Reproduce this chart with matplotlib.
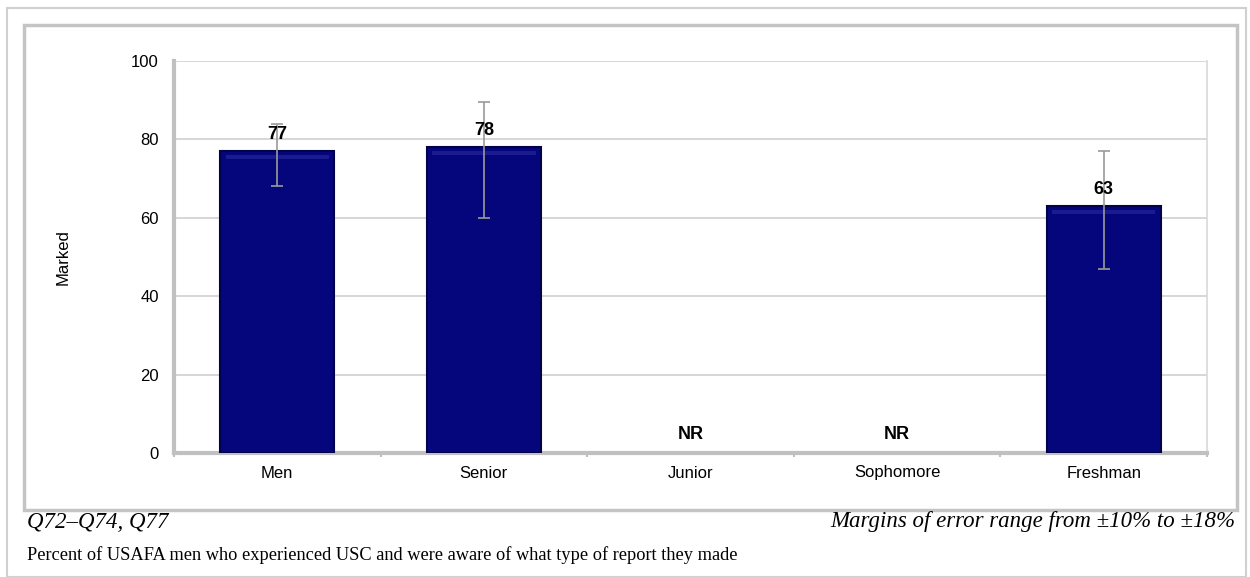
import matplotlib
matplotlib.use("Agg")
import matplotlib.pyplot as plt
from matplotlib.patches import Rectangle
import numpy as np

categories = ["Men", "Senior", "Junior", "Sophomore", "Freshman"]
values = [77, 78, None, None, 63]
err_low = [68, 60, None, None, 47]
err_high = [84, 89.5, None, None, 77]
yticks = [0, 20, 40, 60, 80, 100]

W, H = 1250, 577
fig = plt.figure(figsize=(W / 100, H / 100), dpi=100)

def fx(px):
    return px / W

def fy(py):
    return 1 - py / H

# outer and inner frames
fig.patches.append(Rectangle((fx(7), fy(577)), fx(1246) - fx(7), fy(8) - fy(577),
                             transform=fig.transFigure, fill=False, ec="#d0d0d0", lw=1.5))
fig.patches.append(Rectangle((fx(24), fy(510)), fx(1237) - fx(24), fy(25) - fy(510),
                             transform=fig.transFigure, fill=False, ec="#c4c4c4", lw=2.5))

ax = fig.add_axes([fx(174), fy(453), fx(1207) - fx(174), fy(61) - fy(453)])
x = np.arange(len(categories))
for i, v in enumerate(values):
    if v is None:
        ax.text(i, 2.5, "NR", ha="center", va="bottom", fontsize=13, fontweight="bold",
                family="Liberation Sans")
        continue
    ax.bar(i, v, width=0.55, color="#06067c", edgecolor="#02024a", lw=1.5, zorder=3)
    # subtle highlight strip at top
    ax.bar(i, 1.0, width=0.50, bottom=v - 2.0, color="#2828a0", lw=0, zorder=4, alpha=0.6)
    ax.errorbar(i, v, yerr=[[v - err_low[i]], [err_high[i] - v]], fmt="none",
                ecolor="#9a9a9a", elinewidth=1.2, capsize=4, capthick=1.2, zorder=5)
    ax.text(i, v + 2.0, str(v), ha="center", va="bottom", fontsize=13, fontweight="bold",
            family="Liberation Sans", zorder=6)

ax.set_xlim(-0.5, len(categories) - 0.5)
ax.set_ylim(0, 100)
ax.set_yticks(yticks)
ax.set_yticklabels([str(t) for t in yticks], family="Liberation Sans", fontsize=12)
ax.set_xticks(x)
ax.set_xticklabels(categories, family="Liberation Sans", fontsize=12)
ax.set_xticks(np.arange(-0.5, len(categories), 1), minor=True)
ax.tick_params(axis="x", which="major", length=0, pad=9)
ax.tick_params(axis="x", which="minor", length=3, color="#c0c0c0", width=1.5)
ax.tick_params(axis="y", length=0, pad=11)
ax.yaxis.grid(True, color="#d0d0d0", lw=1.2, zorder=0)
ax.set_axisbelow(True)
for s in ["left", "bottom"]:
    ax.spines[s].set_color("#c0c0c0")
    ax.spines[s].set_linewidth(3)
ax.spines["right"].set_color("#d8d8d8")
ax.spines["right"].set_linewidth(1.2)
ax.spines["top"].set_visible(False)
ax.set_ylabel("Marked", family="Liberation Sans", fontsize=12, labelpad=0)
ax.yaxis.set_label_coords((71 - 174) / (1207 - 174), 0.5)

fig.text(fx(27), fy(522), "Q72\u2013Q74, Q77", family="Liberation Serif", style="italic",
         fontsize=16.5, ha="left", va="center")
fig.text(fx(1235), fy(522), "Margins of error range from \u00b110% to \u00b118%",
         family="Liberation Serif", style="italic", fontsize=16.5, ha="right", va="center")
fig.text(fx(27), fy(555), "Percent of USAFA men who experienced USC and were aware of what type of report they made",
         family="Liberation Serif", fontsize=13.2, ha="left", va="center")

fig.savefig("out.png", dpi=100)
